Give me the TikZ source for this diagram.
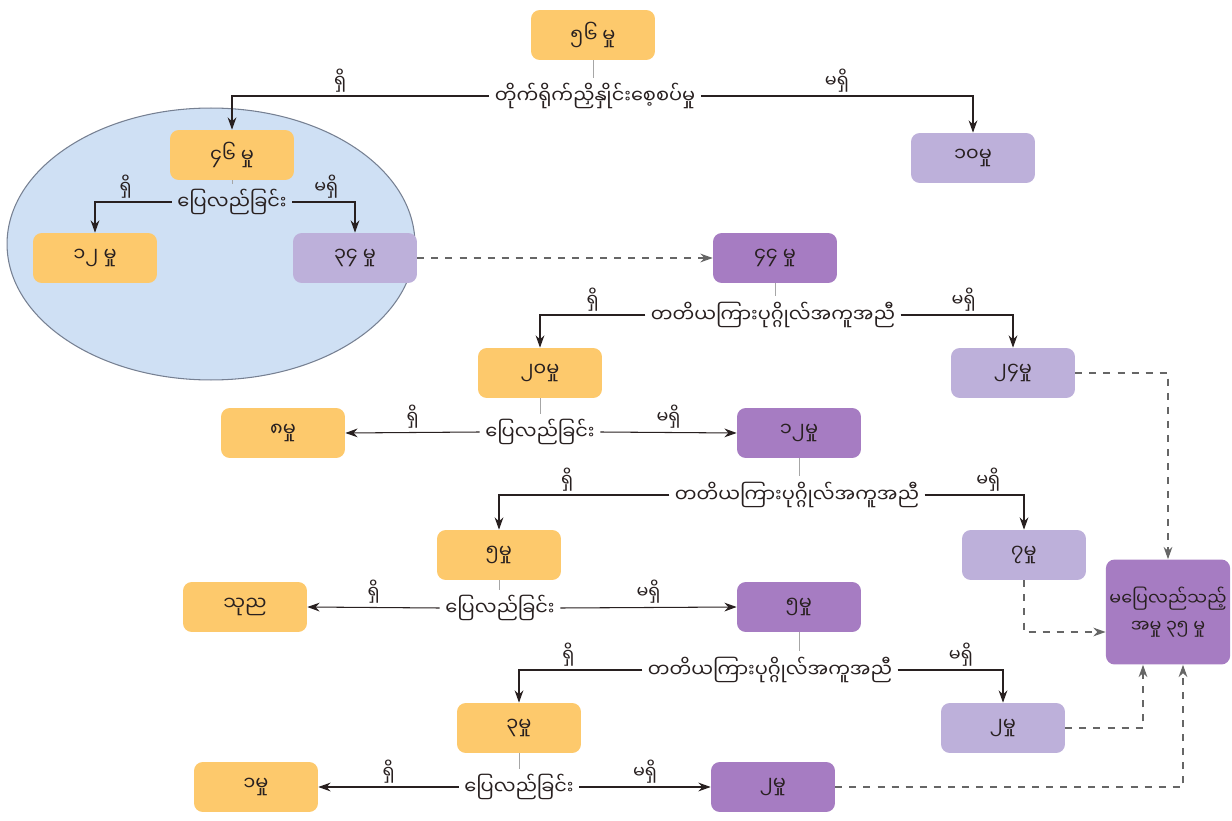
\documentclass[tikz,border=0pt]{standalone}
\usepackage{fontspec}
\usepackage{xcolor}
\usetikzlibrary{arrows.meta}
\newfontfamily\mmfont[Script=Myanmar]{Noto Sans Myanmar UI}
\definecolor{caseyellow}{RGB}{253,201,108}
\definecolor{casepurple}{RGB}{166,124,194}
\definecolor{caselilac}{RGB}{189,176,218}
\definecolor{ovalblue}{RGB}{207,224,244}
\definecolor{ovalline}{RGB}{118,128,146}
\definecolor{darktext}{RGB}{40,32,32}
\tikzset{
    casebox/.style={fill=#1,rounded corners=5pt,minimum width=2.48cm,minimum height=1cm,
        font=\mmfont\fontsize{11}{13}\selectfont,text=darktext},
    steptext/.style={font=\mmfont\fontsize{11}{13}\selectfont,text=darktext,inner sep=3pt},
    answer/.style={font=\mmfont\fontsize{10}{12}\selectfont,text=darktext,above,inner sep=2pt},
    arr/.style={draw=darktext,line width=0.6pt,-{Stealth[length=7pt,width=5pt]}},
    dasharr/.style={draw=gray!80!black,line width=0.6pt,dash pattern=on 4pt off 4pt,-{Stealth[length=7pt,width=5pt]}},
    tie/.style={draw=gray!70,line width=0.4pt}
}

\begin{document}
\begin{tikzpicture}[x=0.02cm,y=-0.02cm]
    \useasboundingbox (0,0) rectangle (1232,821);

    % Oval round the first settlement
    \draw[ovalline,fill=ovalblue,line width=0.6pt] (211,244) ellipse [x radius=4.08cm,y radius=2.72cm];

    % Direct negotiation
    \node[casebox=caseyellow] (n56) at (593,35) {၅၆ မှု};
    \node[steptext] (talk) at (595,96) {တိုက်ရိုက်ညှိနှိုင်းစေ့စပ်မှု};
    \node[casebox=caseyellow] (n46) at (232,155) {၄၆ မှု};
    \node[casebox=caselilac] (n10) at (973,158) {၁၀မှု};

    \draw[tie] (n56.south) -- (n56.south |- talk.north);
    \draw[arr] (talk.west) -| node[answer,pos=0.29] {ရှိ} (n46.north);
    \draw[arr] (talk.east) -| node[answer,pos=0.25] {မရှိ} (n10.north);

    % First settlement
    \node[steptext] (settle1) at (232,202) {ပြေလည်ခြင်း};
    \node[casebox=caseyellow] (n12a) at (95,258) {၁၂ မှု};
    \node[casebox=caselilac] (n34) at (355,258) {၃၄ မှု};

    \draw[tie] (n46.south) -- (n46.south |- settle1.north);
    \draw[arr] (settle1.west) -| node[answer,pos=0.3] {ရှိ} (n12a.north);
    \draw[arr] (settle1.east) -| node[answer,pos=0.27] {မရှိ} (n34.north);

    % Third party, round 1
    \node[casebox=casepurple] (n44) at (775,258) {၄၄ မှု};
    \node[steptext] (third1) at (773,315) {တတိယကြားပုဂ္ဂိုလ်အကူအညီ};
    \node[casebox=caseyellow] (n20) at (540,373) {၂၀မှု};
    \node[casebox=caselilac] (n24) at (1013,373) {၂၄မှု};

    \draw[dasharr] (n34.east) -- (n44.west);
    \draw[tie] (n44.south) -- (n44.south |- third1.north);
    \draw[arr] (third1.west) -| node[answer,pos=0.25] {ရှိ} (n20.north);
    \draw[arr] (third1.east) -| node[answer,pos=0.28] {မရှိ} (n24.north);

    % Second settlement
    \node[steptext] (settle2) at (540,432) {ပြေလည်ခြင်း};
    \node[casebox=caseyellow] (n8) at (283,433) {၈မှု};
    \node[casebox=casepurple] (n12b) at (799,433) {၁၂မှု};

    \draw[tie] (n20.south) -- (n20.south |- settle2.north);
    \draw[arr] (settle2.west) -- node[answer] {ရှိ} (n8.east);
    \draw[arr] (settle2.east) -- node[answer] {မရှိ} (n12b.west);

    % Third party, round 2
    \node[steptext] (third2) at (797,495) {တတိယကြားပုဂ္ဂိုလ်အကူအညီ};
    \node[casebox=caseyellow] (n5a) at (499,555) {၅မှု};
    \node[casebox=caselilac] (n7) at (1024,555) {၇မှု};

    \draw[tie] (n12b.south) -- (n12b.south |- third2.north);
    \draw[arr] (third2.west) -| node[answer,pos=0.3] {ရှိ} (n5a.north);
    \draw[arr] (third2.east) -| node[answer,pos=0.32] {မရှိ} (n7.north);

    % Third settlement
    \node[steptext] (settle3) at (500,608) {ပြေလည်ခြင်း};
    \node[casebox=caseyellow] (n0) at (245,607) {သုည};
    \node[casebox=casepurple] (n5b) at (799,607) {၅မှု};

    \draw[tie] (n5a.south) -- (n5a.south |- settle3.north);
    \draw[arr] (settle3.west) -- node[answer] {ရှိ} (n0.east);
    \draw[arr] (settle3.east) -- node[answer] {မရှိ} (n5b.west);

    % Third party, round 3
    \node[steptext] (third3) at (770,670) {တတိယကြားပုဂ္ဂိုလ်အကူအညီ};
    \node[casebox=caseyellow] (n3) at (519,728) {၃မှု};
    \node[casebox=caselilac] (n2a) at (1003,728) {၂မှု};

    \draw[tie] (n5b.south) -- (n5b.south |- third3.north);
    \draw[arr] (third3.west) -| node[answer,pos=0.3] {ရှိ} (n3.north);
    \draw[arr] (third3.east) -| node[answer,pos=0.3] {မရှိ} (n2a.north);

    % Last settlement
    \node[steptext] (settle4) at (519,787) {ပြေလည်ခြင်း};
    \node[casebox=caseyellow] (n1) at (256,787) {၁မှု};
    \node[casebox=casepurple] (n2b) at (773,787) {၂မှု};

    \draw[tie] (n3.south) -- (n3.south |- settle4.north);
    \draw[arr] (settle4.west) -- node[answer] {ရှိ} (n1.east);
    \draw[arr] (settle4.east) -- node[answer] {မရှိ} (n2b.west);

    % Unsettled cases
    \node[casebox=casepurple,minimum height=2.1cm,align=center,inner sep=2pt,
        font=\mmfont\fontsize{10}{15}\selectfont] (open) at (1168,612) {မပြေလည်သည့်\\အမှု ၃၅ မှု};

    \draw[dasharr] (n24.east) -| (open.north);
    \draw[dasharr] (n7.south) |- ([yshift=-0.4cm]open.west);
    \draw[dasharr] (n2a.east) -| ([xshift=-0.5cm]open.south);
    \draw[dasharr] (n2b.east) -| ([xshift=0.3cm]open.south);
\end{tikzpicture}
\end{document}
